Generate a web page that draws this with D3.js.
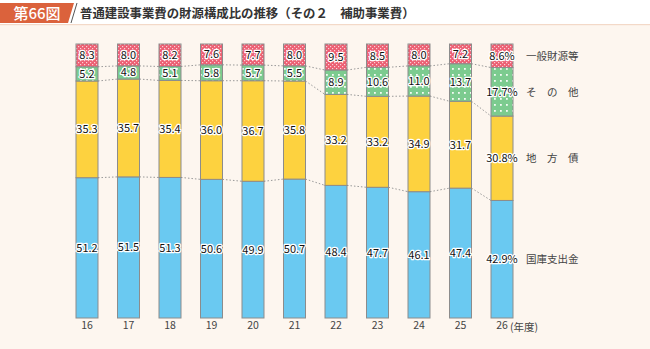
<!DOCTYPE html>
<html>
<head>
<meta charset="utf-8">
<script src="https://cdn.jsdelivr.net/npm/d3@7"></script>
<style>
  html, body { margin: 0; padding: 0; background: #fff; }
  svg { display: block; }
</style>
</head>
<body>
<svg id="chart"></svg>
<script>
// fiscal years (Heisei)
const years = ["16", "17", "18", "19", "20", "21", "22", "23", "24", "25", "26"];

// composition ratios (%), stacked from bottom
const kokko = [51.2, 51.5, 51.3, 50.6, 49.9, 50.7, 48.4, 47.7, 46.1, 47.4, 42.9];
const chihousai = [35.3, 35.7, 35.4, 36.0, 36.7, 35.8, 33.2, 33.2, 34.9, 31.7, 30.8];
const sonota = [5.2, 4.8, 5.1, 5.8, 5.7, 5.5, 8.9, 10.6, 11.0, 13.7, 17.7];
const ippan = [8.3, 8.0, 8.2, 7.6, 7.7, 8.0, 9.5, 8.5, 8.0, 7.2, 8.6];

const seriesNames = ["国庫支出金", "地　方　債", "そ　の　他", "一般財源等"];
const seriesValues = [kokko, chihousai, sonota, ippan];

function draw_chart() {
    const width = 650;
    const height = 349;
    const font = "'Noto Sans CJK JP', 'Noto Sans', sans-serif";

    const svg = d3.select("#chart")
        .attr("width", width)
        .attr("height", height)
        .attr("viewBox", [0, 0, width, height]);

    // patterns for the two top segments
    const defs = svg.append("defs");
    const pRed = defs.append("pattern")
        .attr("id", "pat-red")
        .attr("patternUnits", "userSpaceOnUse")
        .attr("width", 4).attr("height", 4);
    pRed.append("rect").attr("width", 4).attr("height", 4).attr("fill", "#ec5f73");
    pRed.append("rect").attr("x", 0).attr("y", 0).attr("width", 1.2).attr("height", 1.2).attr("fill", "#fbd0d6");
    pRed.append("rect").attr("x", 2).attr("y", 2).attr("width", 1.2).attr("height", 1.2).attr("fill", "#fbd0d6");

    const pGreen = defs.append("pattern")
        .attr("id", "pat-green")
        .attr("patternUnits", "userSpaceOnUse")
        .attr("width", 6).attr("height", 6);
    pGreen.append("rect").attr("width", 6).attr("height", 6).attr("fill", "#7ccb8f");
    pGreen.append("rect").attr("x", 2).attr("y", 2).attr("width", 1.8).attr("height", 1.8).attr("fill", "#f4fbf5");

    const fills = ["#6ac9f1", "#fdd23f", "url(#pat-green)", "url(#pat-red)"];

    // background + header
    svg.append("rect").attr("width", width).attr("height", height).attr("fill", "#fdf6ef");
    svg.append("rect").attr("width", width).attr("height", 24).attr("fill", "#fff");
    svg.append("rect").attr("x", 0).attr("y", 24).attr("width", width).attr("height", 1.2).attr("fill", "#f3d9c8");
    svg.append("path")
        .attr("d", "M0,3 L74,3 L68,23 L0,23 Z")
        .attr("fill", "#db623c");
    svg.append("path")
        .attr("d", "M77,3 L71,23")
        .attr("stroke", "#555")
        .attr("stroke-width", 1);
    svg.append("text")
        .attr("x", 37).attr("y", 18.5)
        .attr("text-anchor", "middle")
        .attr("font-family", font)
        .attr("font-size", 15)
        .attr("font-weight", 500)
        .attr("fill", "#fff")
        .text("第66図");
    svg.append("text")
        .attr("x", 80).attr("y", 18)
        .attr("font-family", font)
        .attr("font-size", 12.4)
        .attr("font-weight", 700)
        .attr("fill", "#333")
        .text("普通建設事業費の財源構成比の推移（その２　補助事業費）");

    const x = d3.scaleBand()
        .domain(years)
        .range([76, 76 + 41.5 * 10 + 22])
        .paddingInner(0.47)
        .paddingOuter(0);

    const y = d3.scaleLinear().domain([0, 100]).range([318, 44]);

    // stacked data
    const rows = years.map((yr, i) => {
        const r = { year: yr };
        seriesNames.forEach((s, k) => r[s] = seriesValues[k][i]);
        return r;
    });
    const stack = d3.stack().keys(seriesNames)(rows);

    // dotted connectors between bars
    const conn = svg.append("g")
        .attr("stroke", "#999")
        .attr("stroke-width", 1)
        .attr("stroke-dasharray", "1.5,2");
    stack.slice(0, 3).forEach(layer => {
        for (let i = 0; i < years.length - 1; i++) {
            conn.append("line")
                .attr("x1", x(years[i]) + x.bandwidth())
                .attr("x2", x(years[i + 1]))
                .attr("y1", y(layer[i][1]))
                .attr("y2", y(layer[i + 1][1]));
        }
    });

    // bars
    const layers = svg.append("g")
        .selectAll("g")
        .data(stack)
        .join("g")
        .attr("fill", (d, k) => fills[k]);

    layers.selectAll("rect")
        .data(d => d)
        .join("rect")
        .attr("x", d => x(d.data.year))
        .attr("y", d => y(d[1]))
        .attr("width", x.bandwidth())
        .attr("height", d => y(d[0]) - y(d[1]))
        .attr("stroke", "#8c8c8c")
        .attr("stroke-width", 1);

    // value labels
    layers.selectAll("text")
        .data(d => d.map(p => ({ p, key: d.key })))
        .join("text")
        .attr("x", d => x(d.p.data.year) + x.bandwidth() / 2)
        .attr("y", d => (y(d.p[0]) + y(d.p[1])) / 2 + 4)
        .attr("text-anchor", "middle")
        .attr("font-family", font)
        .attr("font-size", 11)
        .attr("fill", "#111")
        .attr("stroke", "#fff")
        .attr("stroke-width", 2.5)
        .attr("stroke-linejoin", "round")
        .attr("paint-order", "stroke")
        .text(d => d.p.data[d.key].toFixed(1) + (d.p.data.year === "26" ? "%" : ""));

    // series names beside the last bar
    const last = years[years.length - 1];
    svg.append("g")
        .selectAll("text")
        .data(stack)
        .join("text")
        .attr("x", x(last) + x.bandwidth() + 13)
        .attr("y", d => (y(d[d.length - 1][0]) + y(d[d.length - 1][1])) / 2 + 4)
        .attr("font-family", font)
        .attr("font-size", 10.5)
        .attr("fill", "#444")
        .text(d => d.key);

    // x axis labels
    const axis = svg.append("g")
        .attr("transform", "translate(0,318)")
        .call(d3.axisBottom(x).tickSize(0).tickPadding(4));
    axis.select(".domain").remove();
    axis.selectAll("text")
        .attr("font-family", font)
        .attr("font-size", 10.5)
        .attr("fill", "#444");

    svg.append("text")
        .attr("x", x(last) + x.bandwidth() / 2 + 8)
        .attr("y", 330.5)
        .attr("font-family", font)
        .attr("font-size", 10.5)
        .attr("fill", "#444")
        .text("(年度)");
}

draw_chart();
</script>
</body>
</html>
